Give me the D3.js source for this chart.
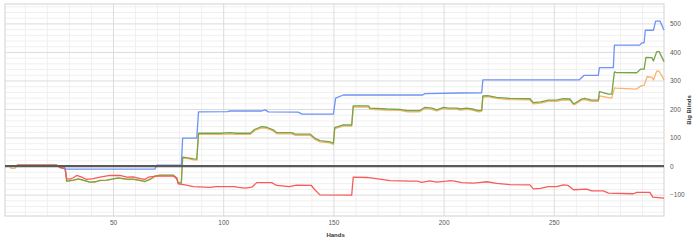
<!DOCTYPE html>
<meta charset="utf-8">
<script src="https://d3js.org/d3.v7.min.js"></script>
<style>
  body { margin: 0; background: #fff; }
  text { font-family: "Liberation Sans", Arial, sans-serif; }
</style>
<div id="chart"></div>
<script>

// tick labels
var xTicks = [50, 100, 150, 200, 250];
var yTicks = [-100, 0, 100, 200, 300, 400, 500];

// [hand, big blinds]
var showdown = [[1,0],[27.5,0],[28.5,-11],[69,-11],[69.8,3],[81,3],[81.6,98],[88,98],[88.8,190],[102,191],[103,193],[117.5,193],[119,197],[120.5,190],[134,189],[135.8,182],[150,182],[151,238],[154.5,249],[190.5,249],[191.5,254],[207,256],[217.3,257],[217.8,302],[261.5,302],[263.8,318],[270.2,318],[270.7,345],[277,345],[277.5,424],[289,424],[290,432],[291,432],[291.5,476],[295.2,476],[296.2,508],[298.2,508],[300,477]];

var nonShowdown = [[1,0],[6,0],[6.6,3],[24.5,3],[26,-5],[28.3,-9],[29,-44],[30.5,-46],[32,-41],[33.5,-33],[35.8,-39],[38.1,-47],[41.1,-44],[44.1,-39],[48.6,-33],[53.2,-33],[56.2,-39],[59.2,-38],[62.3,-44],[64.5,-47],[66,-39],[69.8,-35],[77.4,-35],[78.9,-44],[79.6,-62],[82.7,-66],[86.5,-72],[94,-75],[97,-72],[105,-72],[107,-75],[109.9,-77],[113,-74],[115.2,-58],[122,-58],[124.3,-68],[130,-72],[133.3,-67],[140,-68],[141.6,-83],[143.9,-101],[158.3,-102],[159,-39],[165.2,-40],[171.1,-46],[175.7,-51],[184.8,-53],[188,-53],[190,-57],[193.8,-52],[196.8,-56],[201.3,-53],[202.9,-51],[205,-53],[208.2,-58],[213.5,-60],[216,-58],[219.6,-55],[224.1,-61],[230.1,-65],[239.2,-66],[240.7,-80],[244,-78],[247.5,-72],[251.3,-72],[254.3,-66],[256.5,-68],[258.9,-83],[264.9,-81],[267.2,-87],[272.5,-87],[274.8,-95],[286.1,-97],[287.6,-92],[293.6,-92],[294.9,-109],[300,-112]];

var netWon = [[1,0],[6,0],[6.6,3],[24.5,3],[26,-5],[28.3,-10],[29,-53],[32,-49],[34.3,-45],[36.5,-49],[39.6,-56],[41.8,-55],[44.1,-50],[47.1,-49],[52.4,-41],[56.2,-46],[59.2,-46],[62.3,-50],[64.5,-54],[66.8,-46],[69.1,-35],[71.3,-32],[77.4,-32],[78.9,-41],[79.6,-59],[81,-59],[81.6,31],[84,29],[86.5,25],[88,24],[88.8,115],[98.5,115],[103,117],[106,115],[112.2,115],[114.4,129],[117.5,138],[119.7,136],[122.7,127],[124.3,117],[131.1,117],[132.6,112],[139.4,112],[141.7,97],[143.9,89],[148.5,85],[150,80],[150.6,135],[154.5,144],[158.3,144],[159,211],[165.9,211],[166.6,203],[174.2,200],[180.2,199],[183.6,194],[188.9,194],[191.6,206],[194.6,203],[196.9,197],[200,206],[202.2,203],[206,203],[207.5,200],[210.5,203],[213,200],[215.8,194],[217.3,196],[217.8,246],[220,247],[224,241],[230,237],[239.2,236],[240.7,222],[244,225],[247.5,231],[251.3,231],[254.3,236],[257.4,235],[258.9,219],[259.6,220],[262.6,235],[264,237],[267.2,231],[270.2,231],[270.7,261],[274.8,252],[276.3,252],[277.5,330],[278.2,328],[287.6,327],[289.5,340],[291,340],[291.8,381],[294.5,380],[295.2,368],[296.7,401],[297.8,401],[300,366]];

var allInEV = [[1,0],[3.3,0],[3.8,-8],[5.5,-8],[6.6,3],[24.5,3],[26,-5],[28.3,-10],[29,-54],[32,-50],[34.3,-46],[36.5,-50],[39.6,-57],[41.8,-56],[44.1,-51],[47.1,-50],[52.4,-42],[56.2,-47],[59.2,-47],[62.3,-51],[64.5,-55],[66.8,-47],[69.1,-36],[71.3,-33],[77.4,-33],[78.9,-42],[79.6,-60],[81,-60],[81.6,28],[84,26],[86.5,22],[88,21],[88.8,111],[98.5,111],[103,113],[106,111],[112.2,111],[114.4,125],[117.5,134],[119.7,132],[122.7,123],[124.3,113],[131.1,113],[132.6,108],[139.4,108],[141.7,93],[143.9,85],[148.5,81],[150,76],[150.6,131],[154.5,140],[158.3,140],[159,207],[165.9,207],[166.6,199],[174.2,196],[180.2,195],[183.6,190],[188.9,190],[191.6,202],[194.6,199],[196.9,193],[200,202],[202.2,199],[206,199],[207.5,196],[210.5,199],[213,196],[215.8,190],[217.3,192],[217.8,242],[220,243],[224,237],[230,233],[239.2,232],[240.7,218],[244,221],[247.5,227],[251.3,227],[254.3,232],[257.4,231],[258.9,215],[259.6,216],[262.6,231],[264,233],[267.2,227],[270.2,227],[270.7,246],[274.8,240],[276.3,238],[277.5,274],[278.2,273],[287.6,270],[289.5,281],[291,283],[292.3,313],[294.5,312],[295.2,302],[296.7,333],[297.8,333],[300,302]];

var series = [
  {data: allInEV, color: "#f9b36f"},
  {data: netWon, color: "#76a544"},
  {data: nonShowdown, color: "#f95a5a"},
  {data: showdown, color: "#6f93f6"}
];

var margin = {top: 4, right: 36, bottom: 36, left: 5},
    width = 700 - margin.left - margin.right,
    height = 252 - margin.top - margin.bottom;

var svg = d3.select("#chart")
  .append("svg")
    .attr("width", width + margin.left + margin.right)
    .attr("height", height + margin.top + margin.bottom)
  .append("g")
    .attr("transform", "translate(" + margin.left + "," + margin.top + ")");

var x = d3.scaleLinear().domain([1, 300]).range([0, width]);
var y = d3.scaleLinear().domain([-175, 568]).range([height, 0]);

// gridlines: minor every 10 hands / 20 bb, major every 50 hands / 100 bb
var xMinor = d3.range(10, 300, 10).filter(function(d) { return d % 50 != 0; });
var xMajor = d3.range(50, 300, 50);
var yMinor = d3.range(-160, 568, 20).filter(function(d) { return d % 100 != 0; });
var yMajor = d3.range(-100, 568, 100);

function grid(axis, color) {
  return function(g) {
    g.call(axis);
    g.select(".domain").remove();
    g.selectAll("line").attr("stroke", color).attr("stroke-width", 1);
  };
}

svg.append("g")
  .call(grid(d3.axisLeft(y).tickValues(yMinor).tickSize(-width).tickFormat(""), "#f0f0f0"));
svg.append("g")
  .attr("transform", "translate(0," + height + ")")
  .call(grid(d3.axisBottom(x).tickValues(xMinor).tickSize(-height).tickFormat(""), "#f0f0f0"));
svg.append("g")
  .call(grid(d3.axisLeft(y).tickValues(yMajor).tickSize(-width).tickFormat(""), "#dcdcdc"));
svg.append("g")
  .attr("transform", "translate(0," + height + ")")
  .call(grid(d3.axisBottom(x).tickValues(xMajor).tickSize(-height).tickFormat(""), "#dcdcdc"));

svg.append("rect")
  .attr("width", width)
  .attr("height", height)
  .attr("fill", "none")
  .attr("stroke", "#d9d9d9")
  .attr("stroke-width", 1.2);

// lines
var line = d3.line()
  .x(function(d) { return x(d[0]); })
  .y(function(d) { return y(d[1]); });

svg.selectAll(".series")
  .data(series)
  .enter().append("path")
    .attr("class", "series")
    .attr("fill", "none")
    .attr("stroke", function(d) { return d.color; })
    .attr("stroke-width", 1.3)
    .attr("stroke-linejoin", "round")
    .attr("d", function(d) { return line(d.data); });

// zero line
svg.append("line")
  .attr("x1", x(1)).attr("x2", x(300))
  .attr("y1", y(0)).attr("y2", y(0))
  .attr("stroke", "#595959")
  .attr("stroke-width", 2.2);

// axes labels
var xAxis = svg.append("g")
  .attr("transform", "translate(0," + height + ")")
  .call(d3.axisBottom(x).tickValues(xTicks).tickSize(0).tickPadding(4));
xAxis.select(".domain").remove();

var yAxis = svg.append("g")
  .attr("transform", "translate(" + width + ",0)")
  .call(d3.axisRight(y).tickValues(yTicks).tickSize(0).tickPadding(6));
yAxis.select(".domain").remove();

svg.selectAll(".tick text")
  .attr("fill", "#595959")
  .style("font-size", "6.5px")
  .style("font-family", "'Liberation Sans', Arial, sans-serif");

svg.append("text")
  .attr("x", x(151))
  .attr("y", height + 21)
  .attr("text-anchor", "middle")
  .style("font-size", "6px")
  .style("font-weight", "bold")
  .attr("fill", "#333")
  .text("Hands");

svg.append("text")
  .attr("transform", "translate(" + (width + 27) + "," + (height / 2) + ") rotate(-90)")
  .attr("text-anchor", "middle")
  .style("font-size", "6px")
  .style("font-weight", "bold")
  .attr("fill", "#333")
  .text("Big Blinds");

</script>
